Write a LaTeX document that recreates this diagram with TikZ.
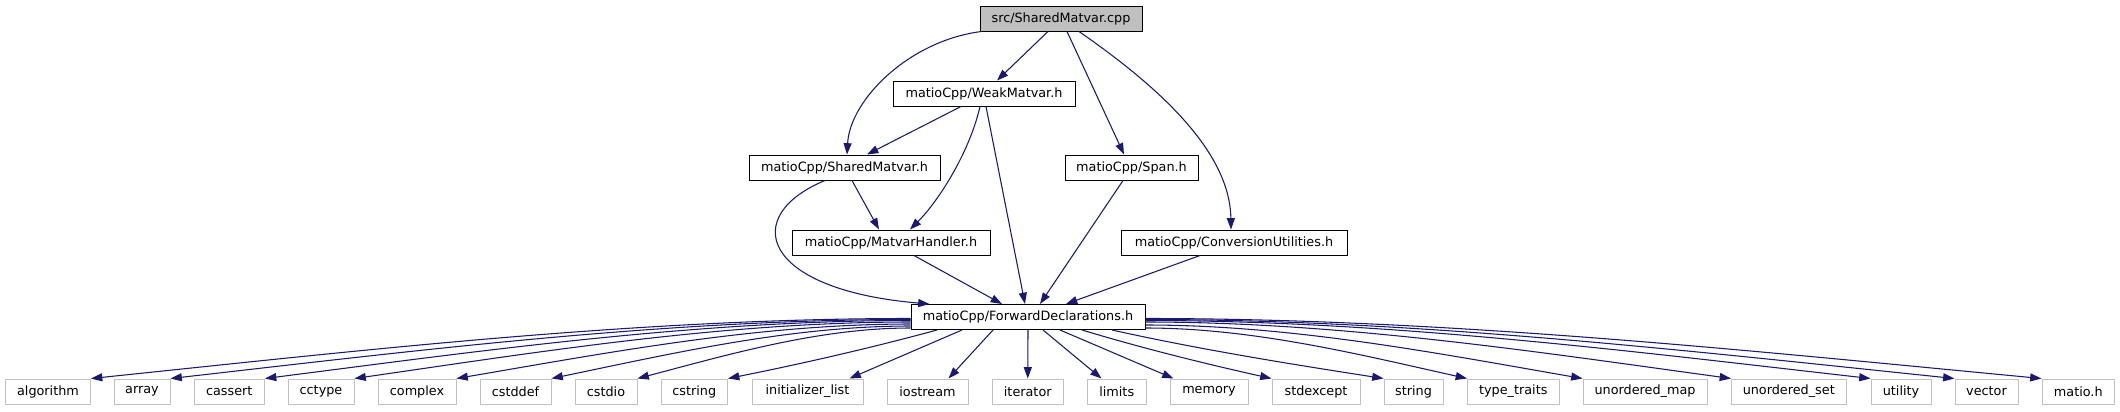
\documentclass[tikz,border=0pt]{standalone}
\usepackage{fontspec}
\setmainfont{DejaVu Sans}
\usetikzlibrary{arrows.meta,calc}
\definecolor{edgeblue}{HTML}{191970}
\definecolor{lgray}{HTML}{BFBFBF}
\begin{document}
\begin{tikzpicture}[x=0.75pt,y=-0.75pt,
  box/.style={draw=black, line width=0.75pt, fill=white, inner sep=0pt, minimum height=18.75pt, font=\fontsize{9.6}{11}\selectfont, text=black},
  rootbox/.style={box, fill=lgray},
  extbox/.style={box, draw=lgray},
  conn/.style={draw=edgeblue, line width=0.8pt, -{Triangle[length=8.5pt,width=6pt]}}
]
\useasboundingbox (0,0) rectangle (2120,411);

% main nodes
\node[rootbox, minimum width=121.5pt] (src) at (1061,18.5) {src/SharedMatvar.cpp};
\node[box, minimum width=136.5pt] (weak) at (984,93.5) {matioCpp/WeakMatvar.h};
\node[box, minimum width=143.25pt] (shared) at (844.5,167.5) {matioCpp/SharedMatvar.h};
\node[box, minimum width=99.75pt] (span) at (1131.5,167.5) {matioCpp/Span.h};
\node[box, minimum width=148.5pt] (handler) at (891,242.5) {matioCpp/MatvarHandler.h};
\node[box, minimum width=169.5pt] (conv) at (1234,242.5) {matioCpp/ConversionUtilities.h};
\node[box, minimum width=175.5pt] (fwd) at (1028,317) {matioCpp/ForwardDeclarations.h};

% bottom row
\node[extbox, minimum width=63.75pt] (algorithm) at (48,391.5) {algorithm};
\node[extbox, minimum width=42pt] (array) at (142,391.5) {array};
\node[extbox, minimum width=52.875pt] (cassert) at (229.25,391.5) {cassert};
\node[extbox, minimum width=49.5pt] (cctype) at (321,391.5) {cctype};
\node[extbox, minimum width=58.5pt] (complex) at (417,391.5) {complex};
\node[extbox, minimum width=53.25pt] (cstddef) at (515.5,391.5) {cstddef};
\node[extbox, minimum width=46.5pt] (cstdio) at (606,391.5) {cstdio};
\node[extbox, minimum width=49.875pt] (cstring) at (694.25,391.5) {cstring};
\node[extbox, minimum width=83.25pt] (initlist) at (807.5,391.5) {initializer\_list};
\node[extbox, minimum width=60.75pt] (iostream) at (927.5,391.5) {iostream};
\node[extbox, minimum width=52.875pt] (iterator) at (1027.75,391.5) {iterator};
\node[extbox, minimum width=43.875pt] (limits) at (1116.75,391.5) {limits};
\node[extbox, minimum width=58.5pt] (memory) at (1209,391.5) {memory};
\node[extbox, minimum width=66pt] (stdexcept) at (1316,391.5) {stdexcept};
\node[extbox, minimum width=44.25pt] (string) at (1413.5,391.5) {string};
\node[extbox, minimum width=68.625pt] (typetraits) at (1513.25,391.5) {type\_traits};
\node[extbox, minimum width=93pt] (umap) at (1645,391.5) {unordered\_map};
\node[extbox, minimum width=85.875pt] (uset) at (1788.75,391.5) {unordered\_set};
\node[extbox, minimum width=45pt] (utility) at (1901,391.5) {utility};
\node[extbox, minimum width=47.25pt] (vector) at (1986.5,391.5) {vector};
\node[extbox, minimum width=54.375pt] (matioh) at (2078.25,391.5) {matio.h};

% upper edges
\draw[conn] ($(src.south)+(-13,0)$) -- ($(weak.north)+(13,0)$);
\draw[conn] ($(src.south west)+(2,0)$) .. controls +(-72,9) and +(3,-55) .. ($(shared.north)+(2.5,0)$);
\draw[conn] ($(src.south)+(6,0)$) -- ($(span.north)+(-7.5,0)$);
\draw[conn] ($(src.south)+(18,0)$) .. controls +(75,52) and +(-1,-80) .. ($(conv.north)+(-3,0)$);
\draw[conn] ($(weak.south)+(-23,0)$) -- ($(shared.north)+(22.5,0)$);
\draw[conn] ($(weak.south)+(-4,0)$) .. controls +(-10,44) and +(30,-30) .. ($(handler.north)+(19,0)$);
\draw[conn] ($(weak.south)+(2,0)$) -- ($(fwd.north)+(-3,0)$);
\draw[conn] ($(shared.south)+(7.5,0)$) -- ($(handler.north)+(-12,0)$);
\draw[conn] ($(shared.south)+(-19.5,0)$) .. controls +(-85,35) and +(-170,-14.5) .. ($(fwd.north west)+(19,0)$);
\draw[conn] ($(handler.south)+(23,0)$) -- ($(fwd.north)+(-26,0)$);
\draw[conn] ($(span.south)+(-8.5,0)$) -- ($(fwd.north)+(12,0)$);
\draw[conn] ($(conv.south)+(-34,0)$) -- ($(fwd.north)+(38,0)$);

% lower edges, left fan
\draw[conn] ($(fwd.west)+(0,1.5)$) .. controls +(-273.5,0) and +(273.5,-28.4) .. (algorithm.north east);
\draw[conn] ($(fwd.west)+(0,2.5)$) .. controls +(-247,0) and +(247,-28) .. (array.north east);
\draw[conn] ($(fwd.west)+(0,3.5)$) .. controls +(-215.5,0) and +(215.5,-27.5) .. (cassert.north east);
\draw[conn] ($(fwd.west)+(0,5)$) .. controls +(-185.7,0) and +(185.7,-26.8) .. (cctype.north east);
\draw[conn] ($(fwd.west)+(0,7)$) .. controls +(-151.7,0) and +(151.7,-25.9) .. (complex.north east);
\draw[conn] ($(fwd.west)+(0,9)$) .. controls +(-120,0) and +(120,-24.9) .. (cstddef.north east);
\draw[conn] ($(fwd.west)+(0,11)$) .. controls +(-91.3,0) and +(91.3,-24) .. (cstdio.north east);
\draw[conn] ($(fwd.south)+(-91,0)$) .. controls +(-70,19) and +(70,-14) .. (cstring.north east);
\draw[conn] ($(fwd.south)+(-66,0)$) -- ($(initlist.north east)+(-14,0)$);
\draw[conn] ($(fwd.south)+(-35,0)$) -- ($(iostream.north east)+(-20,0)$);
\draw[conn] (fwd.south) -- (iterator.north);
\draw[conn] ($(fwd.south)+(15,0)$) -- ($(limits.north west)+(14.5,0)$);
\draw[conn] ($(fwd.south)+(32,0)$) -- ($(memory.north west)+(4,0)$);
\draw[conn] ($(fwd.south)+(54,0)$) .. controls +(63,19) and +(-63,-14) .. (stdexcept.north west);
\draw[conn] ($(fwd.south)+(84,0)$) .. controls +(90,20) and +(-90,-14) .. (string.north west);

% lower edges, right fan
\draw[conn] ($(fwd.east)+(0,11)$) .. controls +(107.5,0) and +(-107.5,-24) .. (typetraits.north west);
\draw[conn] ($(fwd.east)+(0,8)$) .. controls +(146,0) and +(-146,-25.4) .. (umap.north west);
\draw[conn] ($(fwd.east)+(0,5)$) .. controls +(195.5,0) and +(-195.5,-26.8) .. (uset.north west);
\draw[conn] ($(fwd.east)+(0,3.5)$) .. controls +(242,0) and +(-242,-27.5) .. (utility.north west);
\draw[conn] ($(fwd.east)+(0,2.5)$) .. controls +(270,0) and +(-270,-28) .. (vector.north west);
\draw[conn] ($(fwd.east)+(0,1.5)$) .. controls +(299,0) and +(-299,-28.4) .. (matioh.north west);
\end{tikzpicture}
\end{document}
